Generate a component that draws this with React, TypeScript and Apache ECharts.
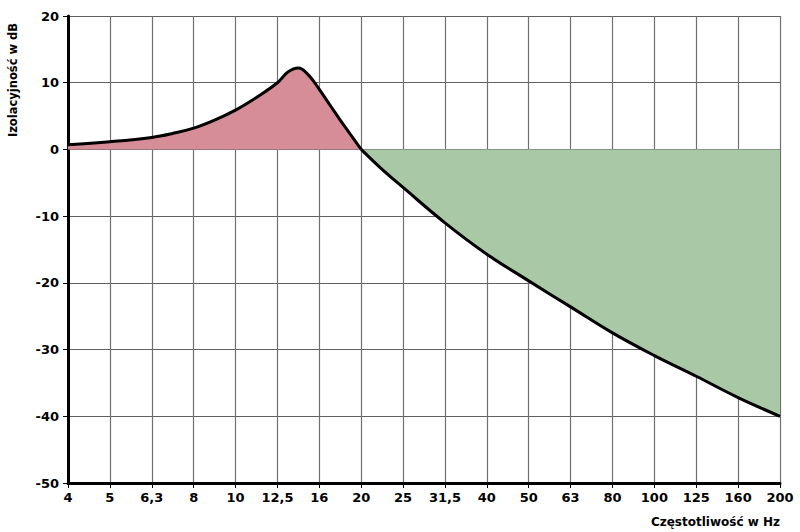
import React, { useEffect, useRef } from "react";
import * as echarts from "echarts";

const freqLabels = ["4", "5", "6,3", "8", "10", "12,5", "16", "20", "25", "31,5", "40", "50", "63", "80", "100", "125", "160", "200"];
// band positions (index along the third-octave axis) and levels in dB
const resonancePos = [0, 1, 2, 2.5, 3, 3.5, 4, 4.5, 5, 5.25, 5.5, 5.75, 6, 6.25, 6.5, 6.75, 7];
const resonanceDb = [0.7, 1.15, 1.8, 2.4, 3.2, 4.4, 5.9, 7.8, 10.0, 11.6, 12.2, 11.1, 9.0, 6.7, 4.4, 2.2, 0];
const isolationPos = [7, 7.5, 8, 9, 10, 11, 12, 13, 14, 15, 16, 17];
const isolationDb = [0, -3.0, -5.7, -11.0, -15.7, -19.7, -23.6, -27.5, -30.9, -34.0, -37.2, -40.0];
const yTicks = { min: -50, max: 20, interval: 10 };

const FONT = "DejaVu Sans";

export default function App() {
  const ref = useRef<HTMLDivElement>(null);
  useEffect(() => {
    if (!ref.current) return;
    const chart = echarts.init(ref.current, null, { renderer: "svg" });
    const zip = (xs: number[], ys: number[]) => xs.map((x, i) => [x, ys[i]]);
    chart.setOption({
      animation: false,
      grid: { left: 68, right: 20, top: 16, bottom: 49 },
      xAxis: {
        type: "value",
        min: 0,
        max: freqLabels.length - 1,
        interval: 1,
        axisLine: { onZero: false, lineStyle: { color: "#000", width: 3 } },
        axisTick: { show: true, length: 5, lineStyle: { color: "#000", width: 1 } },
        axisLabel: {
          formatter: (v: number) => freqLabels[Math.round(v)] ?? "",
          color: "#000",
          fontFamily: FONT,
          fontWeight: "bold",
          fontSize: 13,
          margin: 8,
        },
        splitLine: { show: true, lineStyle: { color: "#707070", width: 1.2 } },
      },
      yAxis: {
        type: "value",
        min: yTicks.min,
        max: yTicks.max,
        interval: yTicks.interval,
        axisLine: { show: true, lineStyle: { color: "#000", width: 3 } },
        axisTick: { show: true, length: 5, lineStyle: { color: "#000", width: 1 } },
        axisLabel: {
          color: "#000",
          fontFamily: FONT,
          fontWeight: "bold",
          fontSize: 13,
          margin: 9,
        },
        splitLine: { show: true, lineStyle: { color: "#606060", width: 1.2 } },
      },
      graphic: [
        {
          type: "text",
          x: 13,
          y: 80,
          rotation: Math.PI / 2,
          style: {
            text: "Izolacyjność w dB",
            fill: "#000",
            font: `bold 11.5px ${FONT}`,
            textAlign: "center",
            textVerticalAlign: "middle",
          },
        },
        {
          type: "text",
          x: 780,
          y: 522,
          style: {
            text: "Częstotliwość w Hz",
            fill: "#000",
            font: `bold 12px ${FONT}`,
            textAlign: "right",
            textVerticalAlign: "middle",
          },
        },
      ],
      series: [
        {
          type: "line",
          data: zip(resonancePos, resonanceDb),
          smooth: 0.4,
          showSymbol: false,
          lineStyle: { color: "#000", width: 3 },
          areaStyle: { color: "#d68d98", opacity: 1 },
          z: 3,
        },
        {
          type: "line",
          data: zip(isolationPos, isolationDb),
          smooth: 0.4,
          showSymbol: false,
          lineStyle: { color: "#000", width: 3 },
          areaStyle: { color: "#a9c9a6", opacity: 1 },
          z: 3,
        },
      ],
    });
    return () => chart.dispose();
  }, []);
  return <div ref={ref} style={{ width: 800, height: 532, position: "absolute", left: 0, top: 0 }} />;
}
